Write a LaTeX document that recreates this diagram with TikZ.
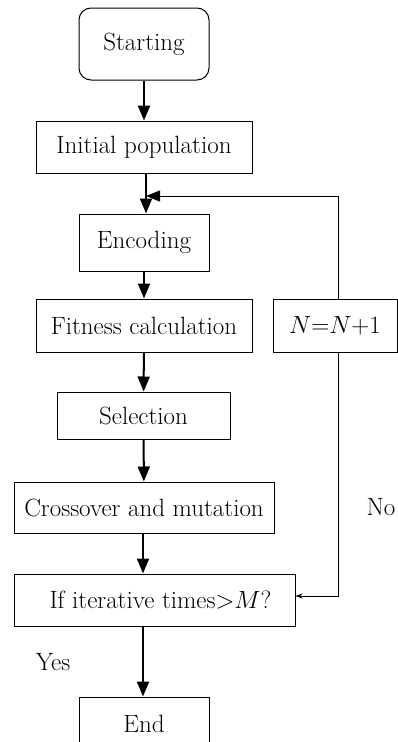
\documentclass[tikz,border=0pt]{standalone}
\usetikzlibrary{arrows.meta}
\begin{document}
\begin{tikzpicture}[x=1pt,y=-1pt,
  box/.style={draw,line width=1pt,inner sep=0pt,font=\fontsize{25}{29}\selectfont},
  lbl/.style={inner sep=0pt,font=\fontsize{25}{29}\selectfont},
  flow/.style={line width=2pt,-{Triangle[width=12pt,length=15pt]}},
  back/.style={line width=0.8pt}]
\useasboundingbox (0,0) rectangle (398,742);
\clip (0,0) rectangle (398,742);
\node[box,rounded corners=12pt,minimum width=130pt,minimum height=72pt] (start) at (144,44) {Starting};
\node[box,minimum width=216pt,minimum height=52pt] (init) at (144,147) {Initial population};
\node[box,minimum width=130pt,minimum height=57pt] (enc) at (144,242.5) {Encoding};
\node[box,minimum width=216pt,minimum height=53pt] (fit) at (144,325.5) {Fitness calculation};
\node[box,minimum width=124pt,minimum height=53pt] (inc) at (335,325.5) {$N$=$N$+1};
\node[box,minimum width=173pt,minimum height=47pt] (sel) at (143.5,415.5) {Selection};
\node[box,minimum width=260pt,minimum height=51pt] (cross) at (144,507.5) {Crossover and mutation};
\node[box,minimum width=281pt,minimum height=52pt] (cond) at (154.5,600) {\hspace*{12pt}If iterative times$>$$M$?};
\node[box,minimum width=130pt,minimum height=66pt] (end) at (144,730) {\raisebox{12pt}{End}};
\node[lbl] (no) at (381,507) {No};
\node[lbl] (yes) at (53,662) {Yes};
\coordinate (join) at (146,196);
\draw[flow] (start) -- (init);
\draw[flow] (init.south -| join) -- (enc.north -| join);
\draw[flow] (enc) -- (fit);
\draw[flow] (fit) -- (sel);
\draw[flow] (sel) -- (cross);
\draw[flow] (cross.south -| 143,0) -- (cond.north -| 143,0);
\draw[flow] (cond.south -| 143,0) -- (end.north -| 143,0);
\draw[back,-{Triangle[width=11pt,length=14pt]}] ([xshift=3pt]inc.north) |- (join);
\draw[back,-{Stealth[width=5pt,length=7pt]}] ([xshift=3pt]inc.south) |- ([yshift=4pt]cond.east);
\end{tikzpicture}
\end{document}
